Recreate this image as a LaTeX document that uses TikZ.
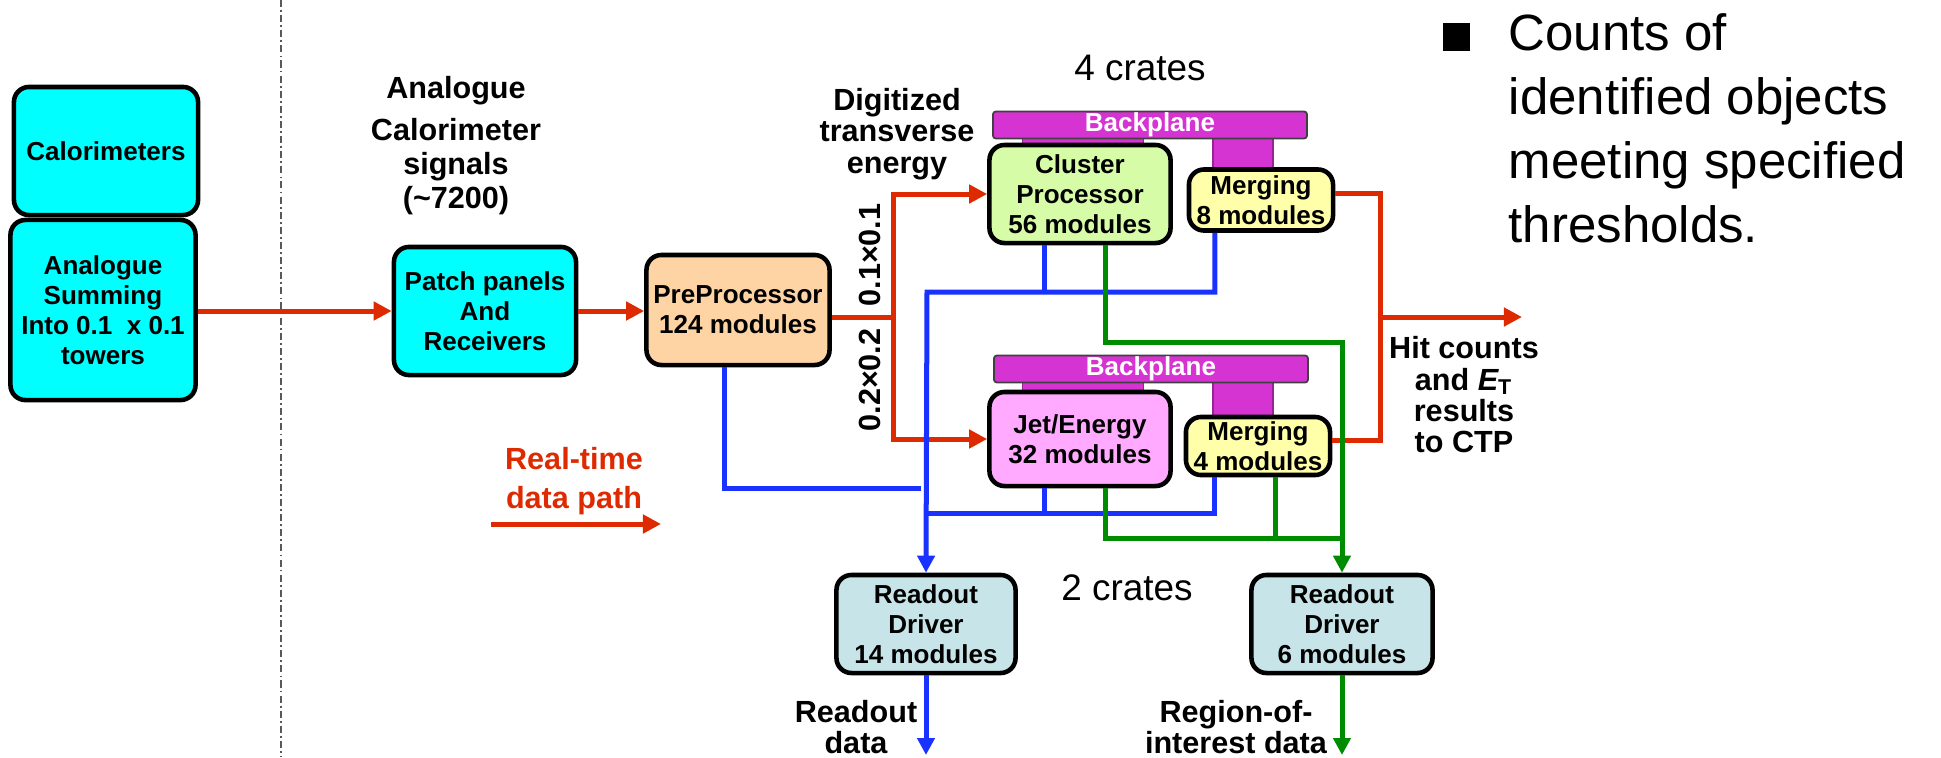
\documentclass[tikz,border=0pt]{standalone}
\usepackage{fontspec}
\setmainfont{Liberation Sans}
\usetikzlibrary{arrows.meta,positioning}
\definecolor{calcyan}{RGB}{0,255,255}
\definecolor{prepeach}{RGB}{255,212,164}
\definecolor{cpgreen}{RGB}{214,252,168}
\definecolor{mergeyellow}{RGB}{255,255,170}
\definecolor{jetpink}{RGB}{255,170,255}
\definecolor{bpmagenta}{RGB}{214,52,210}
\definecolor{rodblue}{RGB}{199,228,232}
\definecolor{pathred}{RGB}{221,42,0}
\definecolor{roblue}{RGB}{25,50,255}
\definecolor{roigreen}{RGB}{0,140,0}
\newcommand{\boxfont}{\fontsize{7.4pt}{8.5pt}\selectfont\bfseries}
\newcommand{\lblfont}{\fontsize{8.7pt}{8.9pt}\selectfont\bfseries}
\newcommand{\cratefont}{\fontsize{10.5pt}{12pt}\selectfont}
\newcommand{\notefont}{\fontsize{14.5pt}{18.2pt}\selectfont}

\begin{document}
\begin{tikzpicture}[
  x=0.01cm, y=-0.01cm,
  box/.style={draw, line width=1.3pt, rounded corners=0.15cm, align=center, font=\boxfont, inner sep=0pt},
  backplane/.style={draw=black!75, line width=0.5pt, rounded corners=0.03cm, fill=bpmagenta, text=white, font=\boxfont, inner sep=0pt, minimum width=3.14cm, minimum height=0.27cm},
  tab/.style={draw=bpmagenta!70!black, line width=0.3pt, fill=bpmagenta, inner sep=0pt},
  lbl/.style={align=center, font=\lblfont, inner sep=0pt},
  redline/.style={draw=pathred, line width=0.05cm},
  blueline/.style={draw=roblue, line width=0.05cm},
  greenline/.style={draw=roigreen, line width=0.05cm},
  redarrow/.style={redline, -{Triangle[length=0.18cm,width=0.18cm]}},
  bluearrow/.style={blueline, -{Triangle[length=0.17cm,width=0.17cm]}},
  greenarrow/.style={greenline, -{Triangle[length=0.17cm,width=0.17cm]}}
]
  \useasboundingbox (0,0) rectangle (1941,757);

  % Divider
  \draw[gray!70!black, line width=0.6pt, dash pattern=on 2pt off 0.9pt on 0.5pt off 0.9pt] (281,0) -- (281,757);

  % Detector side
  \node[box, fill=calcyan, minimum width=1.84cm, minimum height=1.28cm] (cal) at (106,151) {Calorimeters};
  \node[box, fill=calcyan, minimum width=1.85cm, minimum height=1.80cm] (sum) at (103,310) {Analogue\\Summing\\Into 0.1 \ x 0.1\\towers};

  % Receivers and PreProcessor
  \node[lbl] (sighdr) at (456,146) {Analogue\\[0.1cm]Calorimeter\\[0.03cm]signals\\[0.03cm](\textasciitilde7200)};
  \node[box, fill=calcyan, minimum width=1.82cm, minimum height=1.28cm] (patch) at (485,311) {Patch panels\\And\\Receivers};
  \node[box, fill=prepeach, minimum width=1.83cm, minimum height=1.10cm] (pre) at (738,310) {PreProcessor\\124 modules};
  \node[lbl] (digit) at (897,134) {Digitized\\transverse\\energy};
  \node[lbl, rotate=90] (fine) at (870,255) {0.1×0.1};
  \node[lbl, rotate=90] (coarse) at (870,380) {0.2×0.2};

  % Processor crates
  \node[font=\cratefont, inner sep=0pt] (crates4) at (1140,68) {4 crates};
  \node[tab, minimum width=1.2cm, minimum height=0.1cm] (cpstrip) at (1083,142) {};
  \node[tab, minimum width=0.6cm, minimum height=0.32cm] (m1tab) at (1243,153) {};
  \node[backplane] (bp1) at (1150,125) {Backplane};
  \node[box, fill=cpgreen, minimum width=1.81cm, minimum height=0.98cm] (cp) at (1080,194) {Cluster\\Processor\\56 modules};
  \node[box, fill=mergeyellow, minimum width=1.44cm, minimum height=0.61cm] (m1) at (1261,200) {Merging\\8 modules};

  \node[tab, minimum width=1.2cm, minimum height=0.1cm] (jetstrip) at (1083,386) {};
  \node[tab, minimum width=0.6cm, minimum height=0.34cm] (m2tab) at (1243,399) {};
  \node[backplane] (bp2) at (1151,369) {Backplane};
  \node[box, fill=jetpink, minimum width=1.81cm, minimum height=0.94cm] (jet) at (1080,439) {Jet/Energy\\32 modules};
  \node[box, fill=mergeyellow, minimum width=1.44cm, minimum height=0.58cm] (m2) at (1258,446) {Merging\\4 modules};

  % Readout drivers
  \node[box, fill=rodblue, minimum width=1.79cm, minimum height=0.98cm] (rod1) at (926,624) {Readout\\Driver\\14 modules};
  \node[box, fill=rodblue, minimum width=1.81cm, minimum height=0.98cm] (rod2) at (1342,624) {Readout\\Driver\\6 modules};
  \node[font=\cratefont, inner sep=0pt] (crates2) at (1127,588) {2 crates};

  % Labels
  \node[lbl, text=pathred] (rtlbl) at (574,481) {Real-time\\[0.07cm]data path};
  \node[lbl] (hitlbl) at (1464,395) {Hit counts\\and {\itshape E}\textsubscript{\upshape T}\\results\\to CTP};
  \node[lbl] (rolbl) at (856,727) {Readout\\data};
  \node[lbl] (roilbl) at (1236,727) {Region-of-\\interest data};

  % Note
  \node[font=\notefont, align=left, anchor=west, inner sep=0pt] (note) at (1508,128) {Counts of\\identified objects\\meeting specified\\thresholds.};
  \node[fill=black, minimum size=0.27cm, inner sep=0pt] (bullet) at (1456,37) {};

  % Free ends
  \coordinate (split) at (893,317);
  \coordinate (hit) at (1380,317);
  \coordinate (ctp) at (1522,317);
  \coordinate (rtfrom) at (491,524);
  \coordinate (rtto) at (661,524);
  \coordinate (bluebus) at (927,292);
  \coordinate (bluebus2) at (927,513);
  \coordinate (preret) at (921,488);
  \coordinate (greenbus) at (1342,342);
  \coordinate (greenbus2) at (1342,538);
  \coordinate (roout) at (926,755);
  \coordinate (roiout) at (1342,755);

  % Real-time path
  \draw[redarrow] (sum.east |- patch.west) -- (patch.west);
  \draw[redarrow] (patch.east) -- (patch.east -| pre.west);
  \draw[redline] (pre.east |- split) -- (split);
  \draw[redarrow] (split) |- (cp.west);
  \draw[redarrow] (split) |- (jet.west);
  \draw[redline] ([yshift=0.07cm]m1.east) -| (hit) |- ([yshift=0.06cm]m2.east);
  \draw[redarrow] (hit) -- (ctp);
  \draw[redarrow] (rtfrom) -- (rtto);

  % Readout data
  \draw[blueline] ([xshift=-0.13cm]pre.south) |- (preret);
  \draw[bluearrow] ([xshift=-0.46cm]m1.south) |- (bluebus) -- (rod1.north);
  \draw[blueline] ([xshift=-0.35cm]cp.south) -- ([xshift=-0.35cm]cp.south |- bluebus);
  \draw[blueline] ([xshift=-0.43cm]m2.south) |- (bluebus2);
  \draw[blueline] ([xshift=-0.35cm]jet.south) -- ([xshift=-0.35cm]jet.south |- bluebus2);
  \draw[bluearrow] (rod1.south) -- (roout);

  % Region-of-interest data
  \draw[greenarrow] ([xshift=0.25cm]cp.south) |- (greenbus) -- (rod2.north);
  \draw[greenline] ([xshift=0.25cm]jet.south) |- (greenbus2);
  \draw[greenline] ([xshift=0.17cm]m2.south) -- ([xshift=0.17cm]m2.south |- greenbus2);
  \draw[greenarrow] (rod2.south) -- (roiout);
\end{tikzpicture}
\end{document}
